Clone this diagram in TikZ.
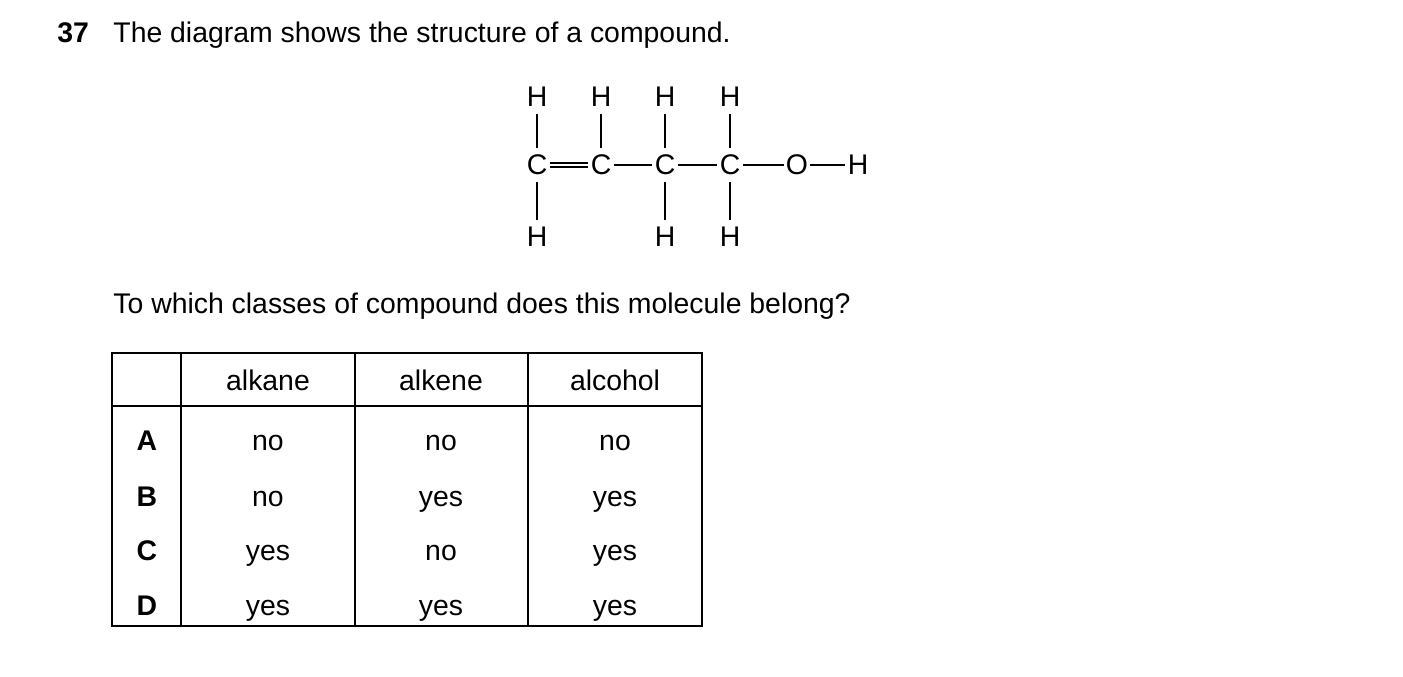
\documentclass[tikz,border=0pt]{standalone}
\usepackage{fontspec}
\setmainfont{Liberation Sans}
\begin{document}
\begin{tikzpicture}[x=0.5pt,y=-0.5pt,
  txt/.style={font=\fontsize{14.2}{17}\selectfont,inner sep=0pt},
  cell/.style={txt,anchor=base},
  atom/.style={font=\fontsize{14.2}{17}\selectfont,inner sep=1pt},
  bond/.style={line width=0.75pt},
  grid/.style={line width=0.6pt}]
\useasboundingbox (0,0) rectangle (1403,676);
\node[txt,anchor=base west,font=\fontsize{14.2}{17}\selectfont\bfseries] (num) at (57,42) {37};
\node[txt,anchor=base west] (title) at (113,42) {The diagram shows the structure of a compound.};
% molecule
\foreach \n/\x in {1/537,2/601,3/665,4/730}{
  \node[atom] (C\n) at (\x,165) {C};
  \node[atom] (T\n) at (\x,97) {H};
}
\node[atom] (B1) at (537,237) {H};
\node[atom] (B3) at (665,237) {H};
\node[atom] (B4) at (730,237) {H};
\node[atom] (O) at (797,165) {O};
\node[atom] (HO) at (858,165) {H};
\foreach \n in {1,2,3,4}{\draw[bond,shorten <=2.5pt,shorten >=2.5pt] (T\n) -- (C\n);}
\foreach \n in {1,3,4}{\draw[bond,shorten <=2.5pt,shorten >=2.5pt] (C\n) -- (B\n);}
\draw[bond,transform canvas={yshift=1.1pt}] (C1) -- (C2);
\draw[bond,transform canvas={yshift=-1.1pt}] (C1) -- (C2);
\draw[bond] (C2) -- (C3);
\draw[bond] (C3) -- (C4);
\draw[bond] (C4) -- (O);
\draw[bond] (O) -- (HO);
\node[txt,anchor=base west] (q) at (113,313) {To which classes of compound does this molecule belong?};
% table
\draw[grid] (112,353) rectangle (702,626);
\draw[grid] (112,406) -- (702,406);
\foreach \x in {181,355,528}{\draw[grid] (\x,353) -- (\x,626);}
\node[cell] (h1) at (268,390) {alkane};
\node[cell] (h2) at (441,390) {alkene};
\node[cell] (h3) at (615,390) {alcohol};
\foreach \l/\y/\a/\b/\c in {A/450/no/no/no,B/506/no/yes/yes,C/560/yes/no/yes,D/615/yes/yes/yes}{
  \node[cell,font=\fontsize{14.2}{17}\selectfont\bfseries] (r\l) at (147,\y) {\l};
  \node[cell] (a\l) at (268,\y) {\a};
  \node[cell] (b\l) at (441,\y) {\b};
  \node[cell] (c\l) at (615,\y) {\c};
}
\end{tikzpicture}
\end{document}
